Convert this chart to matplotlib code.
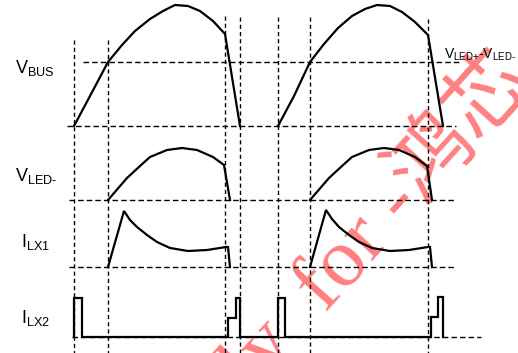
import matplotlib
matplotlib.use('Agg')
import matplotlib.pyplot as plt

plt.rcParams['font.family'] = ['Liberation Sans', 'DejaVu Sans']
plt.rcParams['mathtext.fontset'] = 'custom'
plt.rcParams['mathtext.rm'] = 'Liberation Sans'

# waveform points (x = time, y = level, screen pixels)
vbus1_t = [74, 90, 108, 122, 135, 150, 163, 175, 188, 200, 213, 225, 240]
vbus1_y = [126, 96, 62, 45, 31, 19, 11, 5, 6, 11, 21, 34, 126]
vbus2_t = [278, 294, 310, 324, 338, 352, 365, 377, 390, 402, 415, 428, 443]
vbus2_y = [126, 96, 62, 44, 28, 16, 9, 5, 6, 12, 22, 35, 126]

vled1_t = [108, 127, 140, 150, 167, 182, 197, 213, 224, 230]
vled1_y = [200, 178, 166, 157, 150, 148, 150, 157, 165, 200]
vled2_t = [310, 329, 342, 352, 369, 384, 399, 415, 427, 432]
vled2_y = [200, 178, 166, 157, 150, 148, 150, 157, 166, 200]

ilx1_1_t = [108, 124, 130, 137, 147, 157, 170, 188, 207, 226, 228, 230]
ilx1_1_y = [267, 211, 220, 227, 235, 242, 248, 251, 250, 247, 247, 267]
ilx1_2_t = [310, 326, 332, 339, 349, 359, 372, 390, 409, 428, 430, 432]
ilx1_2_y = [267, 210, 219, 227, 235, 242, 248, 251, 250, 247, 247, 267]

ilx2_t = [74, 74, 82, 82, 228, 228, 236, 236, 240, 240, 278, 278, 285, 285,
          431, 431, 438, 438, 443, 443]
ilx2_y = [337, 298, 298, 337, 337, 318, 318, 298, 298, 337, 337, 298, 298, 337,
          337, 317, 317, 297, 297, 337]

# reference levels / time markers
hlevels = [62, 126, 200, 267, 337]
hstart = [83, 67, 69, 69, 72]
hend = [461, 456, 455, 455, 481]
vmarks = [74, 108, 225, 240, 278, 310, 428]
vtop = [40, 40, 16, 17, 17, 17, 19]

labels = [r'$\mathregular{V_{BUS}}$', r'$\mathregular{V_{LED\text{-}}}$',
          r'$\mathregular{I_{LX1}}$', r'$\mathregular{I_{LX2}}$']
label_x = [15, 15, 21, 21]
label_y = [73, 181, 247, 323]

fig = plt.figure(figsize=(5.18, 3.53), dpi=100)
ax = fig.add_axes([0, 0, 1, 1])
ax.set_xlim(0, 518)
ax.set_ylim(353, 0)
ax.axis('off')

# watermark
wm_color = '#ff8080'
fam = ['Liberation Serif', 'Noto Sans CJK SC']
ax.text(325, 314, 'Only  ', rotation=48, rotation_mode='anchor', ha='right',
        va='baseline', fontsize=60, color=wm_color, family=fam, zorder=0)
ax.text(325, 314, 'for -鸿芯', rotation=48, rotation_mode='anchor', ha='left',
        va='baseline', fontsize=60, color=wm_color, family=fam, zorder=0)

for y, x0, x1 in zip(hlevels, hstart, hend):
    ax.plot([x0, x1], [y, y], color='black', lw=1.0, ls=(0, (4, 2.2)), zorder=1)
for x, y0 in zip(vmarks, vtop):
    ax.plot([x, x], [y0, 353], color='black', lw=1.0, ls=(0, (3, 2.2)), zorder=1)

for t, y in [(vbus1_t, vbus1_y), (vbus2_t, vbus2_y), (vled1_t, vled1_y),
             (vled2_t, vled2_y), (ilx1_1_t, ilx1_1_y), (ilx1_2_t, ilx1_2_y),
             (ilx2_t, ilx2_y)]:
    ax.plot(t, y, color='black', lw=1.6, solid_joinstyle='miter', zorder=2)

for s, x, y in zip(labels, label_x, label_y):
    ax.text(x, y, s, fontsize=13, ha='left', va='baseline')

ax.text(444, 59, r'$\mathregular{V_{LED\text{+}}\text{-}V_{LED\text{-}}}$',
        fontsize=10, ha='left', va='baseline')

fig.savefig('out.png', dpi=100)
